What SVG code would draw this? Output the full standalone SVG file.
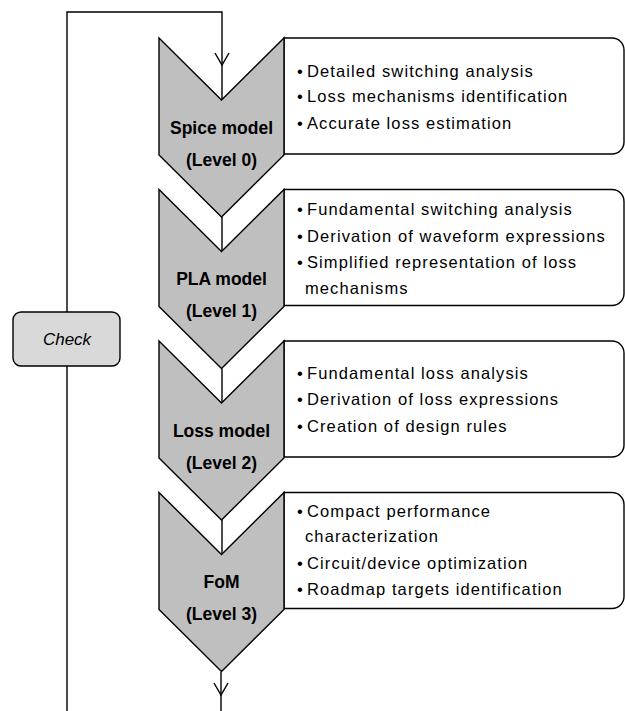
<svg xmlns="http://www.w3.org/2000/svg" width="625" height="711" viewBox="0 0 625 711">
<style>
.ln{fill:none;stroke:#000;stroke-width:1.4}
.box{fill:#fff;stroke:#000;stroke-width:1.4}
.chev{fill:#bfbfbf;stroke:#000;stroke-width:1.4;stroke-linejoin:miter}
.chk{fill:#d9d9d9;stroke:#000;stroke-width:1.4}
.lbl{font-family:"Liberation Sans",Arial,sans-serif;font-weight:bold;font-size:17.5px;text-anchor:middle;fill:#000}
.bl{font-family:"Liberation Sans",Arial,sans-serif;font-size:16.5px;letter-spacing:1.1px;fill:#000}
.ck{font-family:"Liberation Sans",Arial,sans-serif;font-style:italic;font-size:17px;text-anchor:middle;fill:#000}
</style>
<defs>
<path id="arr" d="M-7,-12 L0,0 L7,-12" class="ln"/>
</defs>
<rect width="625" height="711" fill="#fff"/>
<g id="connectors">
<path class="ln" d="M67,711 V12 H222 V100"/>
<use href="#arr" x="222" y="65"/>
<path class="ln" d="M222,217 V251.5"/>
<path class="ln" d="M222,368.5 V403"/>
<path class="ln" d="M222,520 V554.5"/>
<path class="ln" d="M221,672 V711"/>
<use href="#arr" x="221" y="695"/>
</g>
<g id="check">
<rect class="chk" x="13" y="312" width="107" height="54" rx="8"/>
<text class="ck" x="67" y="345">Check</text>
</g>
<g id="box0">
<path class="box" d="M284,38 H612 A12,12 0 0 1 624,50 V142 A12,12 0 0 1 612,154 H284 Z"/>
<text class="bl" y="76.5"><tspan x="297">•</tspan><tspan x="307">Detailed switching analysis</tspan></text>
<text class="bl" y="102"><tspan x="297">•</tspan><tspan x="307">Loss mechanisms identification</tspan></text>
<text class="bl" y="128.5"><tspan x="297">•</tspan><tspan x="307">Accurate loss estimation</tspan></text>
</g>
<g id="box1">
<path class="box" d="M284,189.5 H612 A12,12 0 0 1 624,201.5 V293.5 A12,12 0 0 1 612,305.5 H284 Z"/>
<text class="bl" y="215"><tspan x="297">•</tspan><tspan x="307">Fundamental switching analysis</tspan></text>
<text class="bl" y="241.5"><tspan x="297">•</tspan><tspan x="307">Derivation of waveform expressions</tspan></text>
<text class="bl" y="268"><tspan x="297">•</tspan><tspan x="307">Simplified representation of loss</tspan></text>
<text class="bl" x="305" y="293.5">mechanisms</text>
</g>
<g id="box2">
<path class="box" d="M284,341 H612 A12,12 0 0 1 624,353 V445 A12,12 0 0 1 612,457 H284 Z"/>
<text class="bl" y="378.5"><tspan x="297">•</tspan><tspan x="307">Fundamental loss analysis</tspan></text>
<text class="bl" y="405"><tspan x="297">•</tspan><tspan x="307">Derivation of loss expressions</tspan></text>
<text class="bl" y="431.5"><tspan x="297">•</tspan><tspan x="307">Creation of design rules</tspan></text>
</g>
<g id="box3">
<path class="box" d="M284,492.5 H612 A12,12 0 0 1 624,504.5 V596.5 A12,12 0 0 1 612,608.5 H284 Z"/>
<text class="bl" y="517"><tspan x="297">•</tspan><tspan x="307">Compact performance</tspan></text>
<text class="bl" x="305" y="542">characterization</text>
<text class="bl" y="568.5"><tspan x="297">•</tspan><tspan x="307">Circuit/device optimization</tspan></text>
<text class="bl" y="595"><tspan x="297">•</tspan><tspan x="307">Roadmap targets identification</tspan></text>
</g>
<g id="level0">
<path class="chev" d="M159,38 L221.5,100 L284,38 V155 L221.5,217 L159,155 Z"/>
<text class="lbl" x="221.5" y="133.5">Spice model</text>
<text class="lbl" x="221.5" y="165.5">(Level 0)</text>
</g>
<g id="level1">
<path class="chev" d="M159,189.5 L221.5,251.5 L284,189.5 V306.5 L221.5,368.5 L159,306.5 Z"/>
<text class="lbl" x="221.5" y="285">PLA model</text>
<text class="lbl" x="221.5" y="317">(Level 1)</text>
</g>
<g id="level2">
<path class="chev" d="M159,341 L221.5,403 L284,341 V458 L221.5,520 L159,458 Z"/>
<text class="lbl" x="221.5" y="436.5">Loss model</text>
<text class="lbl" x="221.5" y="468.5">(Level 2)</text>
</g>
<g id="level3">
<path class="chev" d="M159,492.5 L221.5,554.5 L284,492.5 V609.5 L221.5,671.5 L159,609.5 Z"/>
<text class="lbl" x="221.5" y="588">FoM</text>
<text class="lbl" x="221.5" y="620">(Level 3)</text>
</g>
</svg>
